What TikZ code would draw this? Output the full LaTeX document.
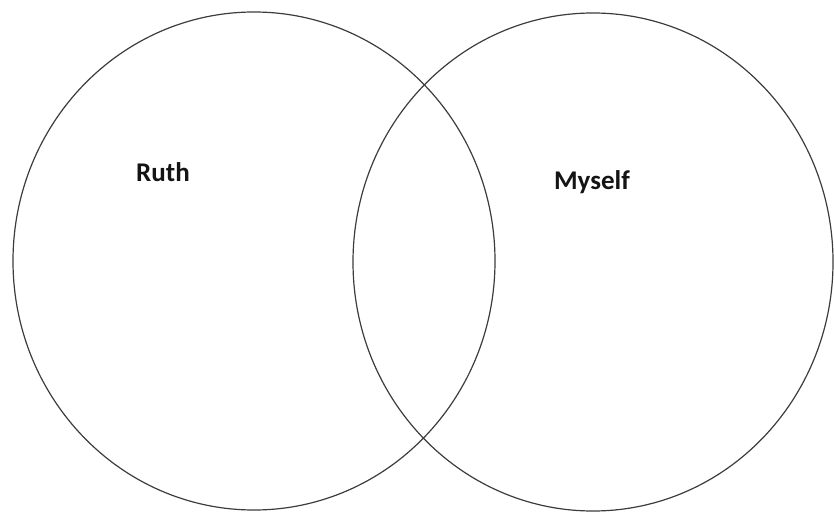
\documentclass[tikz,border=0pt]{standalone}
\usepackage{fontspec}
\setmainfont{Carlito}
\definecolor{ringline}{RGB}{60,60,60}
\definecolor{labeltext}{RGB}{20,20,20}

\begin{document}
\begin{tikzpicture}[x=1pt, y=-1pt,
    ring/.style={draw=ringline, line width=1.2pt},
    setlabel/.style={color=labeltext, font=\fontsize{27}{30}\selectfont\bfseries}]

    \useasboundingbox (0,0) rectangle (834,513);

    % 1. The two overlapping sets
    \draw[ring] (254,261) ellipse (241 and 249);
    \draw[ring] (593,262) ellipse (240 and 249);

    % 2. Set names
    \node[setlabel] (ruth) at (163,172) {Ruth};
    \node[setlabel] (myself) at (592,182) {Myself};

\end{tikzpicture}
\end{document}
